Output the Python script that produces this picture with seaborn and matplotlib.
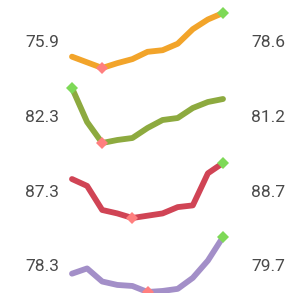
import matplotlib

matplotlib.use("Agg")
import matplotlib.pyplot as plt
import numpy as np
import pandas as pd
import seaborn as sns

# values (11 points each)
orange_vals = [75.9, 75.55, 75.2, 75.5, 75.75, 76.2, 76.3, 76.7, 77.6, 78.2, 78.6]
green_vals = [82.3, 78.9, 76.8, 77.1, 77.3, 78.3, 79.1, 79.3, 80.3, 80.9, 81.2]
red_vals = [87.3, 86.7, 84.6, 84.3, 83.9, 84.1, 84.3, 84.85, 85.0, 87.8, 88.7]
purple_vals = [78.3, 78.5, 78.0, 77.87, 77.83, 77.6, 77.64, 77.72, 78.14, 78.8, 79.7]

series = [orange_vals, green_vals, red_vals, purple_vals]
line_colors = ["#F2A42A", "#8DAA3F", "#D04455", "#A38FC8"]
MIN_COLOR = "#FF7F7F"
MAX_COLOR = "#7ED957"
TEXT_COLOR = "#4A4A4A"

W, H = 285, 293
sns.set_theme(style="white")
plt.rcParams["font.family"] = ["Roboto", "DejaVu Sans"]

fig = plt.figure(figsize=(W / 100, H / 100), dpi=100)

# pixel layout of each panel's data area
x_left, x_right = 72, 223
tops = [13, 88, 163, 237]
span = 55

for i, vals in enumerate(series):
    top = tops[i]
    ax = fig.add_axes([x_left / W, 1 - (top + span) / H, (x_right - x_left) / W, span / H])
    df = pd.DataFrame({"x": np.arange(len(vals)), "y": vals})
    sns.lineplot(data=df, x="x", y="y", ax=ax, color=line_colors[i], linewidth=4.2,
                 solid_capstyle="round", solid_joinstyle="round")
    for line in ax.get_lines():
        line.set_clip_on(False)
    imin = int(np.argmin(vals))
    imax = int(np.argmax(vals))
    ax.plot(df.x[imin], df.y[imin], marker="D", markersize=6, color=MIN_COLOR,
            clip_on=False, zorder=5, markeredgewidth=0)
    ax.plot(df.x[imax], df.y[imax], marker="D", markersize=6, color=MAX_COLOR,
            clip_on=False, zorder=5, markeredgewidth=0)
    ax.set_xlim(0, len(vals) - 1)
    ax.set_ylim(min(vals), max(vals))
    ax.axis("off")

    yc = 1 - (top + span / 2 + 2) / H
    fig.text(42 / W, yc, f"{vals[0]:.1f}", ha="center", va="center",
             fontsize=12.5, color=TEXT_COLOR, fontweight="normal")
    fig.text(268 / W, yc, f"{vals[-1]:.1f}", ha="center", va="center",
             fontsize=12.5, color=TEXT_COLOR, fontweight="normal")

fig.savefig("out.png", dpi=100)
